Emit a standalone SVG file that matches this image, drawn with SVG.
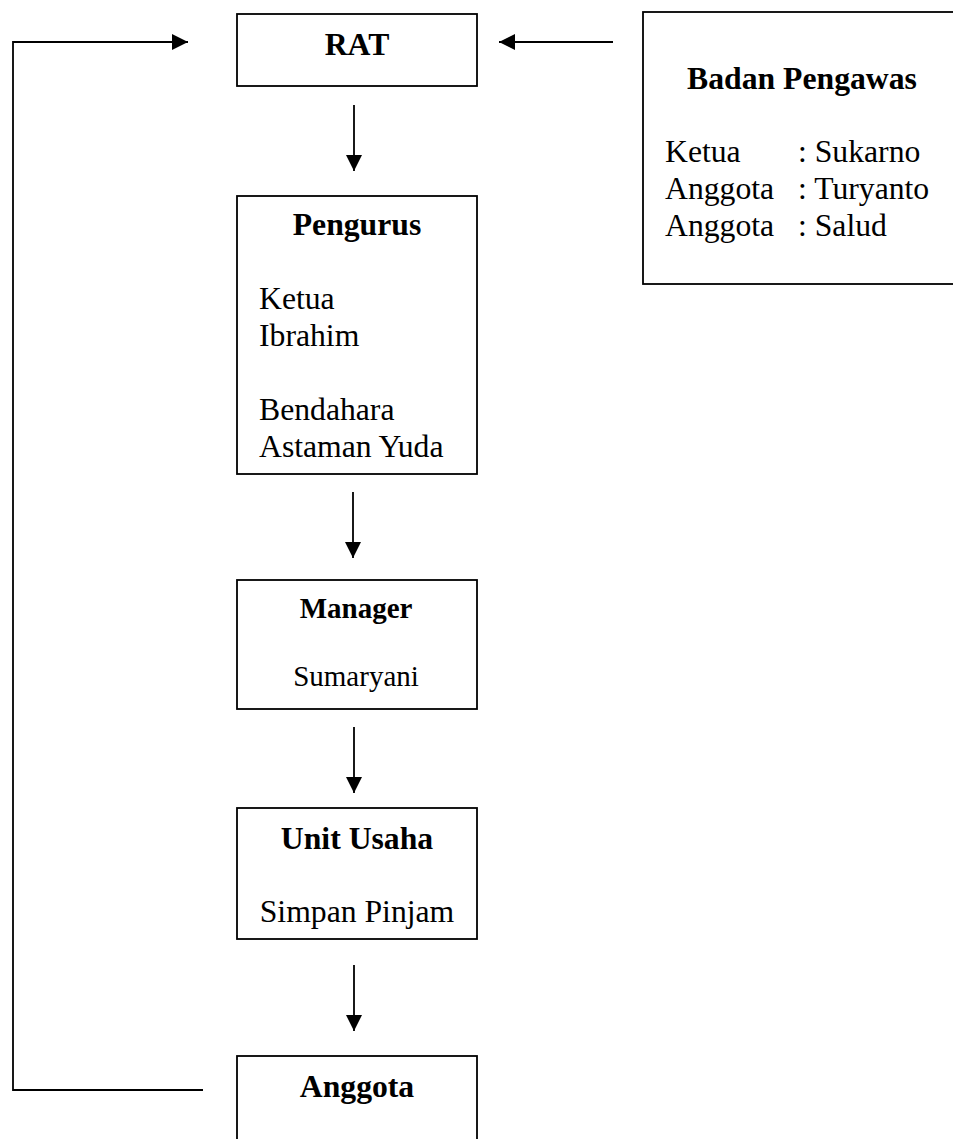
<svg xmlns="http://www.w3.org/2000/svg" width="953" height="1139" viewBox="0 0 953 1139">
<style>
.box{fill:#fff;stroke:#000;stroke-width:1.8}
.t{font-family:"Liberation Serif","Times New Roman",serif;font-size:31.7px;fill:#000}
.b{font-weight:bold}
.m{text-anchor:middle}
.s{font-size:29px}
.c{fill:none;stroke:#000;stroke-width:1.8}
</style>
<defs>
<marker id="ah" markerUnits="userSpaceOnUse" markerWidth="16" markerHeight="16" refX="16" refY="8" orient="auto">
<path d="M0,0 L16,8 L0,16 z" fill="#000"/>
</marker>
</defs>
<rect width="953" height="1139" fill="#fff"/>
<g id="connectors">
<path class="c" d="M203,1090 L13,1090 L13,42 L188,42" marker-end="url(#ah)"/>
<path class="c" d="M613,42 L499,42" marker-end="url(#ah)"/>
<path class="c" d="M354,105 L354,171" marker-end="url(#ah)"/>
<path class="c" d="M353,492 L353,558" marker-end="url(#ah)"/>
<path class="c" d="M354,727 L354,793" marker-end="url(#ah)"/>
<path class="c" d="M354,965 L354,1031" marker-end="url(#ah)"/>
</g>
<g id="rat">
<rect class="box" x="237" y="14" width="240" height="72"/>
<text class="t b m" x="357" y="55">RAT</text>
</g>
<g id="badan-pengawas">
<rect class="box" x="643" y="12" width="320" height="272"/>
<text class="t b m" x="802" y="89">Badan Pengawas</text>
<text class="t" x="665" y="162">Ketua</text>
<text class="t" x="798" y="162">: Sukarno</text>
<text class="t" x="665" y="199">Anggota</text>
<text class="t" x="798" y="199">: Turyanto</text>
<text class="t" x="665" y="236">Anggota</text>
<text class="t" x="798" y="236">: Salud</text>
</g>
<g id="pengurus">
<rect class="box" x="237" y="196" width="240" height="278"/>
<text class="t b m" x="357" y="235">Pengurus</text>
<text class="t" x="259" y="309">Ketua</text>
<text class="t" x="259" y="346">Ibrahim</text>
<text class="t" x="259" y="420">Bendahara</text>
<text class="t" x="259" y="457">Astaman Yuda</text>
</g>
<g id="manager">
<rect class="box" x="237" y="580" width="240" height="129"/>
<text class="t s b m" x="356" y="618">Manager</text>
<text class="t s m" x="356" y="686">Sumaryani</text>
</g>
<g id="unit-usaha">
<rect class="box" x="237" y="808" width="240" height="131"/>
<text class="t b m" x="357" y="849">Unit Usaha</text>
<text class="t m" x="357" y="922">Simpan Pinjam</text>
</g>
<g id="anggota">
<rect class="box" x="237" y="1056" width="240" height="100"/>
<text class="t b m" x="357" y="1097">Anggota</text>
</g>
</svg>
